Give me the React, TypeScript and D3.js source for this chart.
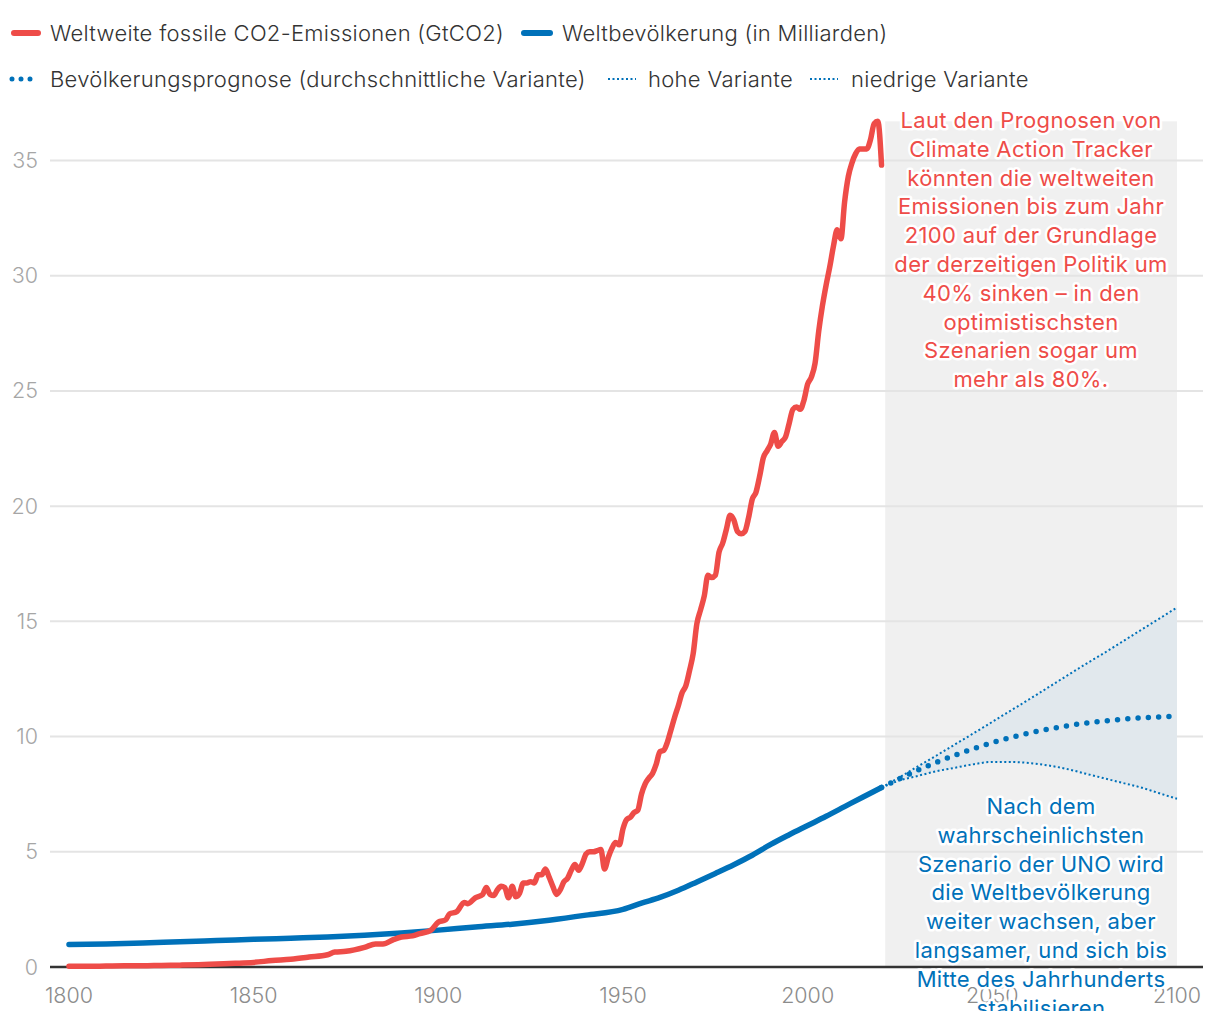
import React from "react";
import * as d3 from "d3";

const co2Years = [
  1800, 1805, 1810, 1815, 1820, 1825, 1830, 1835, 1840, 1845, 1850, 1855, 1860, 1865, 1870, 1872, 1875, 1880, 1883, 1885, 1888, 1890, 1893, 1895, 1898,
  1900, 1902, 1903, 1905, 1907, 1908, 1910, 1912, 1913, 1914, 1915, 1916, 1917, 1918, 1919, 1920, 1921, 1922, 1923, 1924, 1925, 1926, 1927, 1928, 1929,
  1930, 1931, 1932, 1933, 1934, 1935, 1936, 1937, 1938, 1939, 1940, 1941, 1942, 1943, 1944, 1945, 1946, 1947, 1948, 1949,
  1950, 1951, 1952, 1953, 1954, 1955, 1956, 1957, 1958, 1959, 1960, 1961, 1962, 1963, 1964, 1965, 1966, 1967, 1968, 1969,
  1970, 1971, 1972, 1973, 1974, 1975, 1976, 1977, 1978, 1979, 1980, 1981, 1982, 1983, 1984, 1985, 1986, 1987, 1988, 1989,
  1990, 1991, 1992, 1993, 1994, 1995, 1996, 1997, 1998, 1999, 2000, 2001, 2002, 2003, 2004, 2005, 2006, 2007, 2008, 2009,
  2010, 2011, 2012, 2013, 2014, 2015, 2016, 2017, 2018, 2019, 2020,
];
const co2Values = [
  0.03, 0.03, 0.04, 0.05, 0.05, 0.07, 0.08, 0.1, 0.13, 0.16, 0.2, 0.28, 0.34, 0.43, 0.53, 0.65, 0.68, 0.85, 1.0, 1.0, 1.2, 1.3, 1.35, 1.45, 1.6,
  1.95, 2.05, 2.3, 2.4, 2.8, 2.75, 3.0, 3.15, 3.45, 3.15, 3.1, 3.35, 3.5, 3.45, 3.0, 3.5, 3.05, 3.2, 3.65, 3.65, 3.7, 3.65, 4.0, 4.0, 4.25,
  3.9, 3.5, 3.15, 3.35, 3.7, 3.85, 4.2, 4.45, 4.2, 4.5, 4.9, 5.0, 5.0, 5.05, 5.1, 4.25, 4.75, 5.15, 5.4, 5.3,
  6.0, 6.4, 6.5, 6.7, 6.8, 7.5, 7.95, 8.2, 8.4, 8.8, 9.35, 9.4, 9.75, 10.3, 10.85, 11.35, 11.9, 12.2, 12.85, 13.6,
  14.9, 15.5, 16.1, 17.0, 16.9, 17.0, 18.0, 18.4, 19.0, 19.6, 19.4, 18.9, 18.8, 18.9, 19.5, 20.3, 20.6, 21.3, 22.1, 22.4,
  22.7, 23.2, 22.6, 22.8, 23.0, 23.6, 24.2, 24.3, 24.2, 24.6, 25.3, 25.6, 26.2, 27.6, 28.7, 29.6, 30.4, 31.3, 32.0, 31.6,
  33.2, 34.3, 34.9, 35.3, 35.5, 35.5, 35.5, 35.9, 36.6, 36.7, 34.8,
];

const popYears = [1800, 1810, 1820, 1830, 1840, 1850, 1860, 1870, 1880, 1890, 1900, 1910, 1920, 1930, 1940, 1950, 1955, 1960, 1965, 1970, 1975, 1980, 1985, 1990, 1995, 2000, 2005, 2010, 2015, 2020];
const popValues = [0.98, 1.0, 1.04, 1.1, 1.15, 1.2, 1.25, 1.3, 1.38, 1.48, 1.6, 1.74, 1.86, 2.03, 2.25, 2.5, 2.77, 3.02, 3.33, 3.69, 4.06, 4.44, 4.85, 5.32, 5.74, 6.14, 6.54, 6.96, 7.38, 7.79];

const projYears = [2020, 2025, 2030, 2035, 2040, 2045, 2050, 2055, 2060, 2065, 2070, 2075, 2080, 2085, 2090, 2095, 2100];
const projMedium = [7.79, 8.18, 8.55, 8.89, 9.2, 9.48, 9.74, 9.96, 10.15, 10.32, 10.46, 10.58, 10.67, 10.75, 10.81, 10.85, 10.88];
const projHigh = [7.79, 8.25, 8.72, 9.19, 9.67, 10.15, 10.64, 11.13, 11.62, 12.12, 12.62, 13.12, 13.6, 14.1, 14.6, 15.1, 15.6];
const projLow = [7.79, 8.1, 8.3, 8.5, 8.65, 8.8, 8.9, 8.9, 8.85, 8.75, 8.6, 8.4, 8.2, 8.0, 7.8, 7.55, 7.3];

const yTicks = [0, 5, 10, 15, 20, 25, 30, 35];
const xTicks = [1800, 1850, 1900, 1950, 2000, 2050, 2100];

const redNote = [
  "Laut den Prognosen von",
  "Climate Action Tracker",
  "könnten die weltweiten",
  "Emissionen bis zum Jahr",
  "2100 auf der Grundlage",
  "der derzeitigen Politik um",
  "40% sinken – in den",
  "optimistischsten",
  "Szenarien sogar um",
  "mehr als 80%.",
];
const blueNote = [
  "Nach dem",
  "wahrscheinlichsten",
  "Szenario der UNO wird",
  "die Weltbevölkerung",
  "weiter wachsen, aber",
  "langsamer, und sich bis",
  "Mitte des Jahrhunderts",
  "stabilisieren",
];

const RED = "#ee4c48";
const BLUE = "#0071b9";
const FONT = "Inter, Roboto, 'Noto Sans', sans-serif";

export default function App() {
  const W = 1220;
  const H = 1020;
  const x = d3.scaleLinear().domain([1800, 2100]).range([69, 1177]);
  const y = d3.scaleLinear().domain([0, 35]).range([967, 160.5]);

  const line = d3
    .line<[number, number]>()
    .x((d) => x(d[0]))
    .y((d) => y(d[1]))
    .curve(d3.curveMonotoneX);

  const co2 = co2Years.map((yr, i) => [yr, co2Values[i]] as [number, number]);
  const pop = popYears.map((yr, i) => [yr, popValues[i]] as [number, number]);
  const med = projYears.map((yr, i) => [yr, projMedium[i]] as [number, number]);
  const hi = projYears.map((yr, i) => [yr, projHigh[i]] as [number, number]);
  const lo = projYears.map((yr, i) => [yr, projLow[i]] as [number, number]);

  const band = d3
    .area<number>()
    .x((_, i) => x(projYears[i]))
    .y0((_, i) => y(projLow[i]))
    .y1((_, i) => y(projHigh[i]))
    .curve(d3.curveMonotoneX)(projYears.map((_, i) => i));

  const shadeX0 = x(2021);
  const shadeX1 = x(2100);
  const shadeTop = y(d3.max(co2Values) as number);

  const halo = {
    stroke: "#fff",
    strokeWidth: 5,
    strokeLinejoin: "round" as const,
    paintOrder: "stroke" as const,
  };

  return (
    <svg
      width={W}
      height={H}
      style={{ position: "absolute", left: 0, top: 0, background: "#fff" }}
      fontFamily={FONT}
    >
      <defs>
        <clipPath id="clipAll">
          <rect x={0} y={0} width={W} height={1011} />
        </clipPath>
      </defs>

      {/* Legend */}
      <g fontSize={22} fill="#333" fontWeight={300} letterSpacing={0.3}>
        <line x1={14} x2={38} y1={33} y2={33} stroke={RED} strokeWidth={6} strokeLinecap="round" />
        <text x={50} y={41}>Weltweite fossile CO2-Emissionen (GtCO2)</text>
        <line x1={524} x2={550} y1={33} y2={33} stroke={BLUE} strokeWidth={6} strokeLinecap="round" />
        <text x={562} y={41}>Weltbevölkerung (in Milliarden)</text>

        <line x1={12} x2={32} y1={79} y2={79} stroke={BLUE} strokeWidth={5} strokeLinecap="round" strokeDasharray="0 9" />
        <text x={50} y={87}>Bevölkerungsprognose (durchschnittliche Variante)</text>
        <line x1={608} x2={636} y1={79} y2={79} stroke={BLUE} strokeWidth={2} strokeDasharray="2 2.5" />
        <text x={648} y={87}>hohe Variante</text>
        <line x1={810} x2={838} y1={79} y2={79} stroke={BLUE} strokeWidth={2} strokeDasharray="2 2.5" />
        <text x={851} y={87}>niedrige Variante</text>
      </g>

      {/* Projection shading */}
      <rect x={shadeX0} y={shadeTop} width={shadeX1 - shadeX0} height={y(0) - shadeTop} fill="#f0f0f0" />

      {/* Grid + y labels */}
      {yTicks.map((t) =>
        t === 0 ? null : (
          <line key={"g" + t} x1={50} x2={1203} y1={y(t)} y2={y(t)} stroke="#e4e4e4" strokeWidth={2} />
        )
      )}
      <g fontSize={21.5} fill="#a6a6a6" fontWeight={300} textAnchor="end">
        {yTicks.map((t) => (
          <text key={"yl" + t} x={38} y={y(t) + 7.5}>
            {t}
          </text>
        ))}
      </g>

      {/* Band between high & low */}
      <path d={band || ""} fill="#e1e8ed" />

      {/* x axis */}
      <line x1={50} x2={1203} y1={y(0)} y2={y(0)} stroke="#333" strokeWidth={2.5} />
      <g fontSize={21.5} fill="#8c8c8c" fontWeight={300} textAnchor="middle">
        {xTicks.map((t) => (
          <text key={"xl" + t} x={x(t)} y={1003}>
            {t}
          </text>
        ))}
      </g>

      {/* Lines */}
      <path d={line(pop) || ""} fill="none" stroke={BLUE} strokeWidth={5.5} strokeLinecap="round" />
      <path d={line(co2) || ""} fill="none" stroke={RED} strokeWidth={5.5} strokeLinecap="round" strokeLinejoin="round" />

      <path d={line(hi) || ""} fill="none" stroke={BLUE} strokeWidth={2} strokeDasharray="2 2.5" />
      <path d={line(lo) || ""} fill="none" stroke={BLUE} strokeWidth={2} strokeDasharray="2 2.5" />
      <path d={line(med) || ""} fill="none" stroke={BLUE} strokeWidth={5.5} strokeLinecap="round" strokeDasharray="0 10.3" />

      {/* Annotations */}
      <g fontSize={22} fill={RED} textAnchor="middle" letterSpacing={0.35} {...halo}>
        {redNote.map((s, i) => (
          <text key={"r" + i} x={1031} y={128 + i * 28.8}>
            {s}
          </text>
        ))}
      </g>
      <g clipPath="url(#clipAll)">
        <g fontSize={22} fill={BLUE} textAnchor="middle" letterSpacing={0.35} {...halo}>
          {blueNote.map((s, i) => (
            <text key={"b" + i} x={1041} y={814 + i * 28.8}>
              {s}
            </text>
          ))}
        </g>
      </g>
    </svg>
  );
}
